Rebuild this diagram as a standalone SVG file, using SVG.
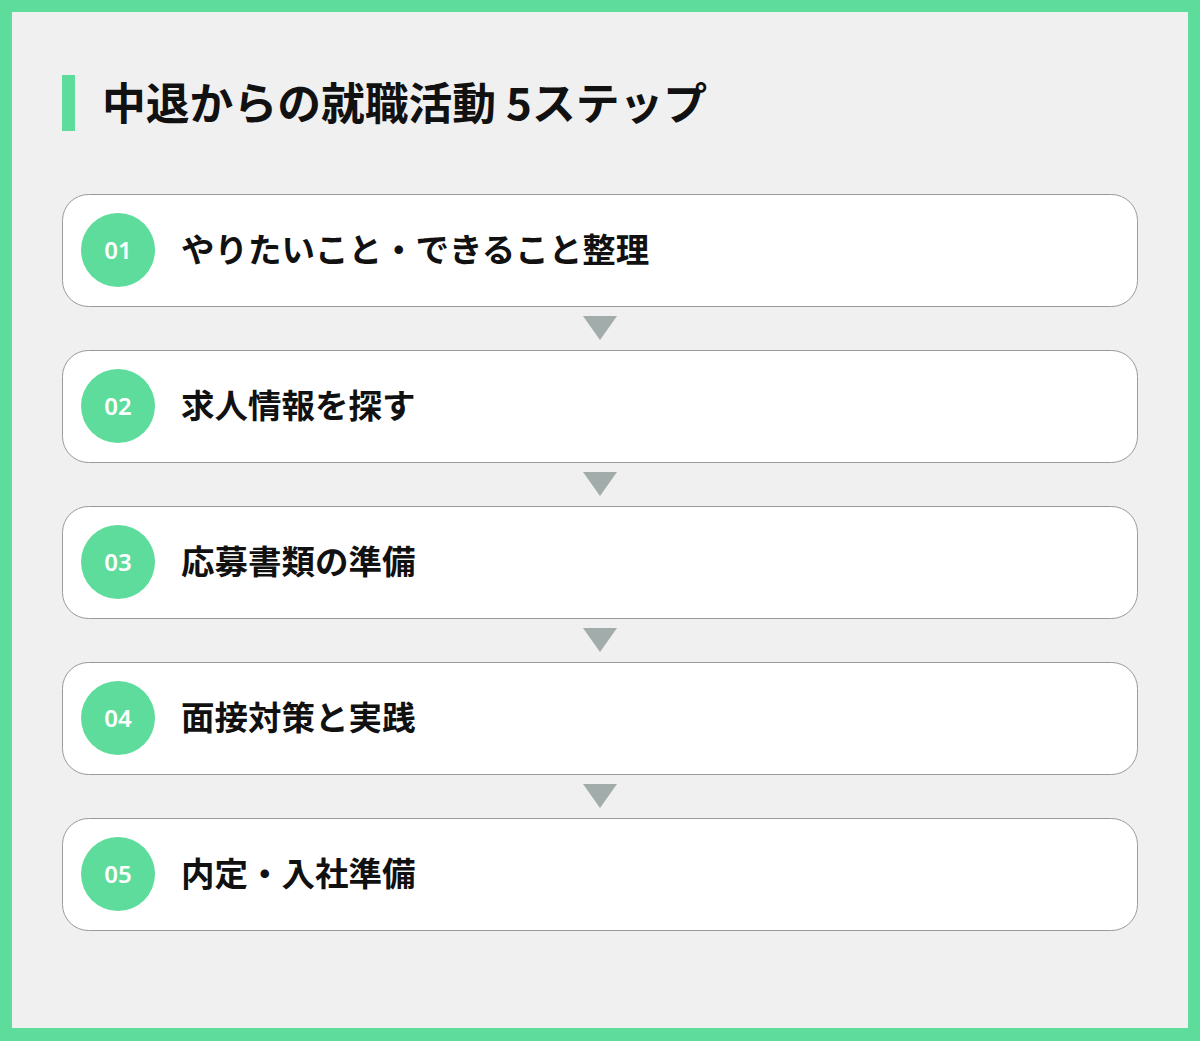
<svg xmlns="http://www.w3.org/2000/svg" width="1200" height="1041" viewBox="0 0 1200 1041">
<style>
.box{fill:#fff;stroke:#9a9a9a;stroke-width:1}
.num{fill:#5edc9c}
.numt{fill:#fff;font-family:"Noto Sans","Liberation Sans",sans-serif;font-weight:600;font-size:24px;text-anchor:middle}
.lbl{fill:#111;font-family:"Noto Sans CJK JP","Noto Sans",sans-serif;font-weight:700;font-size:33.5px}
.arr{fill:#a2acab}
</style>
<rect x="0" y="0" width="1200" height="1041" fill="#5edc9c"/>
<rect x="12" y="12" width="1176" height="1016" fill="#f0f0f0"/>
<g id="title">
<rect x="62" y="75" width="13" height="56" fill="#5edc9c"/>
<text x="102" y="120" font-family="'Noto Sans CJK JP','Noto Sans',sans-serif" font-weight="700" font-size="43.8" fill="#111">中退からの就職活動 5ステップ</text>
</g>
<g id="connectors">
<polygon class="arr" points="583,316 617,316 600,340"/>
<polygon class="arr" points="583,472 617,472 600,496"/>
<polygon class="arr" points="583,628 617,628 600,652"/>
<polygon class="arr" points="583,784 617,784 600,808"/>
</g>
<g id="step1">
<rect class="box" x="62.5" y="194.5" width="1075" height="112" rx="26"/>
<circle class="num" cx="118" cy="250" r="37"/>
<text class="numt" x="118" y="259">01</text>
<text class="lbl" x="181" y="262">やりたいこと・できること整理</text>
</g>
<g id="step2">
<rect class="box" x="62.5" y="350.5" width="1075" height="112" rx="26"/>
<circle class="num" cx="118" cy="406" r="37"/>
<text class="numt" x="118" y="415">02</text>
<text class="lbl" x="181" y="418">求人情報を探す</text>
</g>
<g id="step3">
<rect class="box" x="62.5" y="506.5" width="1075" height="112" rx="26"/>
<circle class="num" cx="118" cy="562" r="37"/>
<text class="numt" x="118" y="571">03</text>
<text class="lbl" x="181" y="574">応募書類の準備</text>
</g>
<g id="step4">
<rect class="box" x="62.5" y="662.5" width="1075" height="112" rx="26"/>
<circle class="num" cx="118" cy="718" r="37"/>
<text class="numt" x="118" y="727">04</text>
<text class="lbl" x="181" y="730">面接対策と実践</text>
</g>
<g id="step5">
<rect class="box" x="62.5" y="818.5" width="1075" height="112" rx="26"/>
<circle class="num" cx="118" cy="874" r="37"/>
<text class="numt" x="118" y="883">05</text>
<text class="lbl" x="181" y="886">内定・入社準備</text>
</g>
</svg>
